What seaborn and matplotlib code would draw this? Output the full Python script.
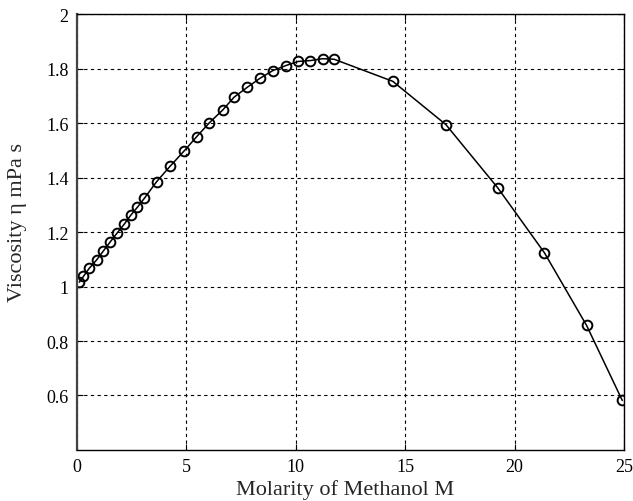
import matplotlib
matplotlib.use("Agg")
import matplotlib.pyplot as plt
import seaborn as sns
import pandas as pd

molarity = [0.105, 0.29, 0.56, 0.90, 1.20, 1.51, 1.84, 2.15, 2.45, 2.76, 3.08, 3.64,
            4.25, 4.89, 5.47, 6.05, 6.66, 7.18, 7.78, 8.36, 8.94, 9.55, 10.11, 10.65,
            11.23, 11.75, 14.43, 16.86, 19.23, 21.36, 23.29, 24.92]
viscosity = [1.016, 1.037, 1.067, 1.098, 1.130, 1.163, 1.197, 1.228, 1.261, 1.291, 1.324, 1.385,
             1.441, 1.497, 1.550, 1.601, 1.648, 1.695, 1.731, 1.764, 1.792, 1.811, 1.826, 1.829,
             1.836, 1.834, 1.753, 1.594, 1.362, 1.124, 0.857, 0.582]
x_ticks = [0, 5, 10, 15, 20, 25]
y_ticks = [0.6, 0.8, 1.0, 1.2, 1.4, 1.6, 1.8, 2.0]
y_tick_labels = ["0.6", "0.8", "1", "1.2", "1.4", "1.6", "1.8", "2"]

sns.set_style("white")
plt.rcParams["font.family"] = ["Liberation Serif", "DejaVu Serif"]

df = pd.DataFrame({"M": molarity, "eta": viscosity})

fig = plt.figure(figsize=(6.33, 5.02), dpi=100)
ax = fig.add_axes([0.1217, 0.1016, 0.8641, 0.8685])

sns.lineplot(data=df, x="M", y="eta", ax=ax, color="black", linewidth=1.1,
             marker="o", markersize=7, markerfacecolor="none",
             markeredgecolor="black", markeredgewidth=1.4, sort=False)

ax.set_xlim(0, 25)
ax.set_ylim(0.4, 2.0)
ax.set_xticks(x_ticks)
ax.set_xticklabels([str(t) for t in x_ticks])
ax.set_yticks(y_ticks)
ax.set_yticklabels(y_tick_labels)
ax.grid(True, color="black", linestyle=(0, (3, 3)), linewidth=0.8)
ax.tick_params(direction="in", length=4, width=0.8, labelsize=13,
               top=True, right=True, bottom=True, left=True, colors="black", pad=6)
for s in ax.spines.values():
    s.set_color("black")
    s.set_linewidth(1.0)
ax.spines["left"].set_color("#444444")
ax.spines["left"].set_linewidth(1.6)

ax.set_xlabel("Molarity of Methanol M", fontsize=16)
ax.set_ylabel("Viscosity η mPa s", fontsize=16)
ax.xaxis.set_label_coords(0.49, -0.066)
ax.yaxis.set_label_coords(-0.092, 0.525)

fig.savefig("out.png", dpi=100)
